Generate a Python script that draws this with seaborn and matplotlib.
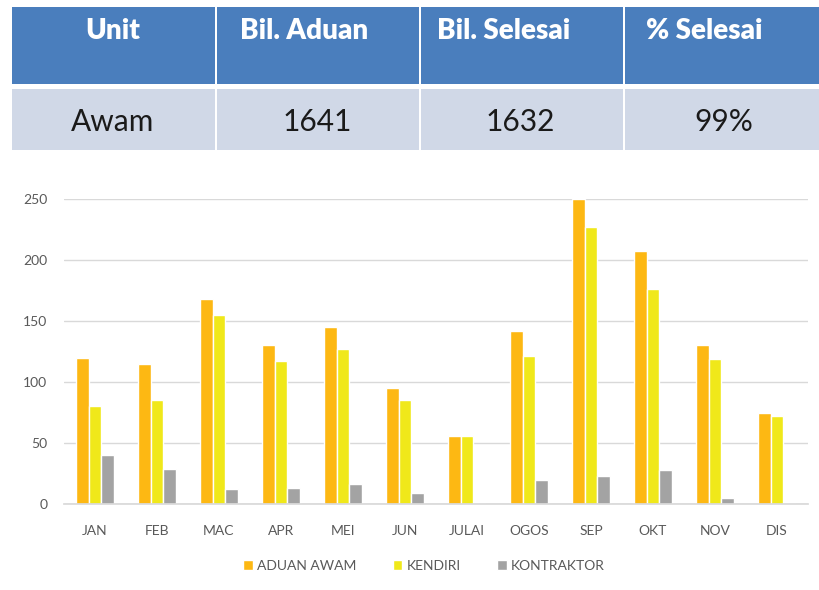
import matplotlib
matplotlib.use("Agg")
import matplotlib.pyplot as plt
from matplotlib.patches import Rectangle
import seaborn as sns
import pandas as pd

# Monthly complaint figures
months = ["JAN", "FEB", "MAC", "APR", "MEI", "JUN", "JULAI", "OGOS", "SEP", "OKT", "NOV", "DIS"]
aduan_awam = [120, 115, 168, 130, 145, 95, 56, 142, 250, 207, 130, 75]
kendiri = [80, 85, 155, 117, 127, 85, 56, 121, 227, 176, 119, 72]
kontraktor = [40, 29, 12, 13, 16, 9, 0, 20, 23, 28, 5, 0]
series_names = ["ADUAN AWAM", "KENDIRI", "KONTRAKTOR"]

# Summary table
table_header = ["Unit", "Bil. Aduan", "Bil. Selesai", "% Selesai"]
table_row = ["Awam", "1641", "1632", "99%"]

sns.set_theme(style="white")
plt.rcParams["font.family"] = ["Lato", "DejaVu Sans"]

W, H = 819, 590
fig = plt.figure(figsize=(W / 100, H / 100), dpi=100)
fig.patch.set_facecolor("white")


def fx(px):
    return px / W


def fy(py):
    return 1 - py / H


# --- summary table drawn on the figure ---
col_edges = [12, 216, 420, 624, 819]
header_top, header_bot = 7, 84
row_top, row_bot = 89, 150
header_text_x = [113, 304, 504, 704]
row_text_x = [113, 317, 520, 724]
for i in range(4):
    x0 = col_edges[i] + (0 if i == 0 else 1)
    x1 = col_edges[i + 1] - (1 if i < 3 else 0)
    fig.patches.append(Rectangle((fx(x0), fy(header_bot)), fx(x1 - x0), (header_bot - header_top) / H,
                                 transform=fig.transFigure, facecolor="#4A7EBD", edgecolor="none"))
    fig.patches.append(Rectangle((fx(x0), fy(row_bot)), fx(x1 - x0), (row_bot - row_top) / H,
                                 transform=fig.transFigure, facecolor="#D0D8E7", edgecolor="none"))
    fig.text(fx(header_text_x[i]), fy(31), table_header[i], ha="center", va="center",
             fontsize=20, fontweight="heavy", color="white")
    fig.text(fx(row_text_x[i]), fy(122), table_row[i], ha="center", va="center",
             fontsize=21.5, color="#1a1a1a")

# --- grouped bar chart ---
df = pd.DataFrame({
    "Bulan": months * 3,
    "Jenis": [series_names[0]] * 12 + [series_names[1]] * 12 + [series_names[2]] * 12,
    "Nilai": aduan_awam + kendiri + kontraktor,
})

ax = fig.add_axes([fx(64), fy(504), fx(808 - 64), (504 - 199) / H])
palette = ["#FDB813", "#F0E81A", "#A3A3A3"]
sns.barplot(data=df, x="Bulan", y="Nilai", hue="Jenis", order=months, hue_order=series_names,
            palette=palette, width=0.6, saturation=1, ax=ax, errorbar=None)

ax.set_xlim(-0.5, 11.5)
ax.set_ylim(0, 250)
ax.set_yticks([0, 50, 100, 150, 200, 250])
ax.set_xlabel("")
ax.set_ylabel("")
ax.grid(axis="y", color="#D9D9D9", linewidth=1)
ax.set_axisbelow(True)
for s in ["top", "right", "left"]:
    ax.spines[s].set_visible(False)
ax.spines["bottom"].set_color("#D9D9D9")
ax.tick_params(axis="both", length=0, labelsize=10, colors="#595959")
ax.tick_params(axis="y", pad=12)
ax.tick_params(axis="x", pad=15)

leg = ax.legend(loc="center", bbox_to_anchor=(fx(424 - 64) / fx(744), -(566 - 504) / 305),
                ncol=3, frameon=False, fontsize=10, handlelength=0.7, handleheight=0.7,
                handletextpad=0.3, columnspacing=2.6)
for t in leg.get_texts():
    t.set_color("#595959")

fig.savefig("out.png", dpi=100, facecolor="white")
